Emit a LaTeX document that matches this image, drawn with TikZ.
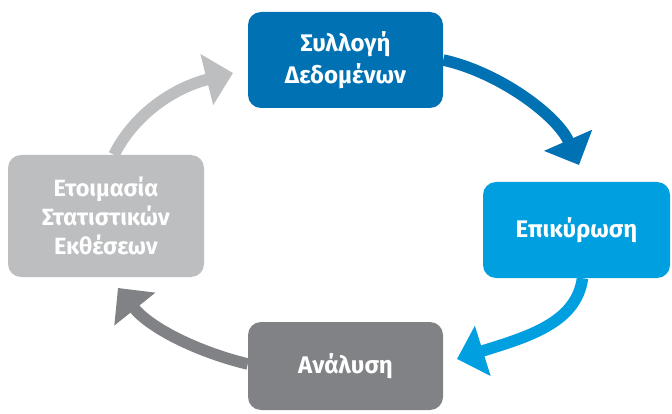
\documentclass[tikz,border=0pt]{standalone}
\usepackage{fontspec}
\setmainfont{Fira Sans}
\usetikzlibrary{arrows.meta}
\definecolor{cblue}{HTML}{0071B3}
\definecolor{clblue}{HTML}{009FDF}
\definecolor{cdgray}{HTML}{808285}
\definecolor{clgray}{HTML}{BCBEC0}
\tikzset{
  box/.style={rounded corners=13pt, text=white, font=\fontsize{24}{32}\selectfont\bfseries, align=center, inner sep=0pt},
  cyc/.style={line width=11.5pt, -{Triangle[length=27pt,width=51pt]}},
}
\begin{document}
\begin{tikzpicture}[x=1pt,y=-1pt]
\useasboundingbox (0,0) rectangle (672,414);
\fill[white] (0,0) rectangle (672,414);
% boxes
\node[box, fill=cblue, minimum width=195pt, minimum height=96pt] (top) at (345.5,60) {Συλλογή\\Δεδομένων};
\node[box, fill=clblue, minimum width=187pt, minimum height=96pt] (right) at (576.5,230) {Επικύρωση};
\node[box, fill=cdgray, minimum width=195pt, minimum height=88pt] (bottom) at (345.5,366) {Ανάλυση};
\node[box, fill=clgray, minimum width=196pt, minimum height=122pt, font=\fontsize{23.5}{29}\selectfont\bfseries] (left) at (106,216) {Ετοιμασία\\Στατιστικών\\Εκθέσεων};
% arrow tips
\coordinate (t1) at (579,165);
\coordinate (t2) at (457,359);
\coordinate (t3) at (118,288);
\coordinate (t4) at (233,73);
% arrows
\draw[cyc, cblue] (top.east) .. controls ++(55,12) and ++(-22,-50) .. (t1);
\draw[cyc, clblue] ([xshift=6pt]right.south) .. controls ++(-6,45) and ++(70,-22) .. (t2);
\draw[cyc, cdgray] ([yshift=2pt]bottom.west) .. controls ++(-50,-12) and ++(32,40) .. (t3);
\draw[cyc, clgray] ([xshift=8pt]left.north) .. controls ++(20,-40) and ++(-60,15) .. (t4);
\end{tikzpicture}
\end{document}
